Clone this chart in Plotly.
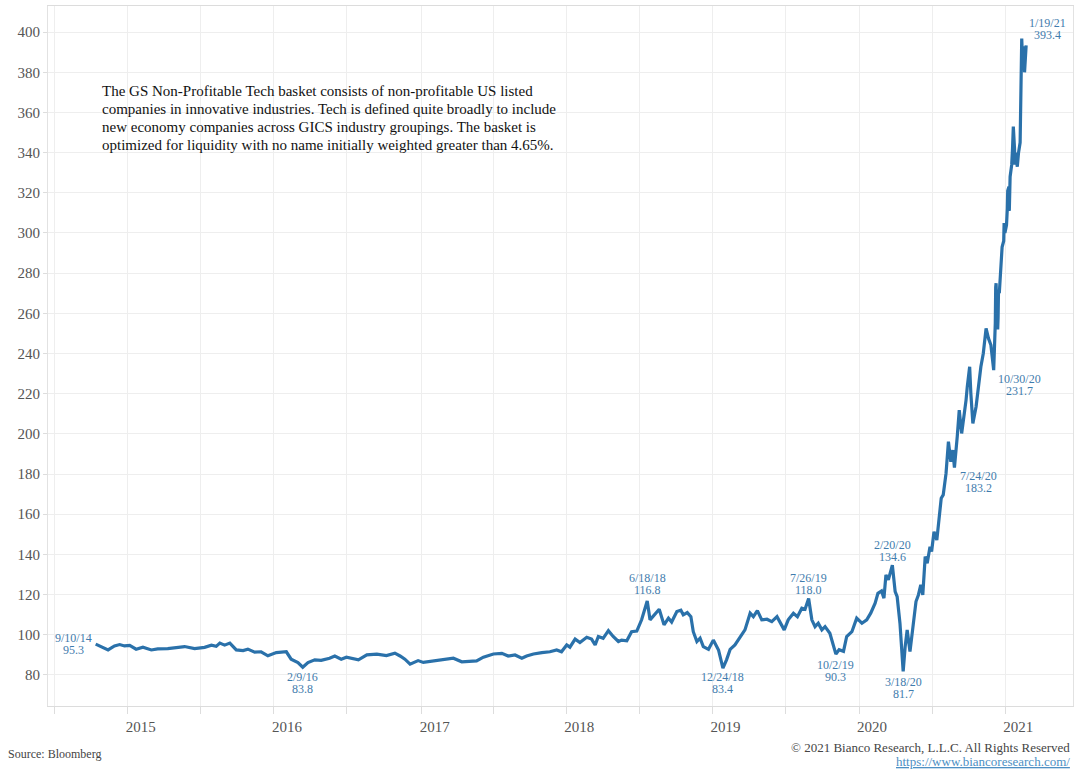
import plotly.graph_objects as go

# ---------------- data ----------------
dates = [
    "2014-09-10", "2014-09-28", "2014-10-11", "2014-10-27", "2014-11-09", "2014-11-21",
    "2014-12-04", "2014-12-20", "2015-01-06", "2015-01-27", "2015-02-12", "2015-03-09",
    "2015-03-30", "2015-04-20", "2015-05-15", "2015-06-09", "2015-06-26", "2015-07-08",
    "2015-07-17", "2015-07-29", "2015-08-11", "2015-08-19", "2015-08-27", "2015-09-13",
    "2015-09-25", "2015-10-12", "2015-10-28", "2015-11-14", "2015-12-05", "2015-12-30",
    "2016-01-11", "2016-01-28", "2016-02-09", "2016-02-22", "2016-03-10", "2016-03-26",
    "2016-04-16", "2016-04-29", "2016-05-15", "2016-05-28", "2016-06-06", "2016-06-27",
    "2016-07-18", "2016-08-12", "2016-09-05", "2016-09-26", "2016-10-09", "2016-10-21",
    "2016-11-03", "2016-11-23", "2016-12-06", "2016-12-23", "2017-01-12", "2017-01-29",
    "2017-02-19", "2017-03-12", "2017-04-02", "2017-04-18", "2017-05-05", "2017-05-30",
    "2017-06-20", "2017-07-06", "2017-07-23", "2017-08-09", "2017-08-21", "2017-09-07",
    "2017-09-28", "2017-10-18", "2017-11-04", "2017-11-16", "2017-11-29", "2017-12-07",
    "2017-12-20", "2018-01-01", "2018-01-18", "2018-01-30", "2018-02-08", "2018-02-16",
    "2018-02-28", "2018-03-13", "2018-03-25", "2018-04-07", "2018-04-15", "2018-04-28",
    "2018-05-10", "2018-05-23", "2018-06-04", "2018-06-18", "2018-06-25", "2018-07-07",
    "2018-07-18", "2018-07-30", "2018-08-10", "2018-08-18", "2018-08-31", "2018-09-10",
    "2018-09-16", "2018-09-26", "2018-10-05", "2018-10-11", "2018-10-20", "2018-10-28",
    "2018-11-05", "2018-11-18", "2018-11-30", "2018-12-13", "2018-12-24", "2019-01-02",
    "2019-01-11", "2019-01-23", "2019-02-05", "2019-02-17", "2019-03-02", "2019-03-10",
    "2019-03-20", "2019-03-31", "2019-04-13", "2019-04-25", "2019-05-08", "2019-05-16",
    "2019-05-26", "2019-06-05", "2019-06-18", "2019-06-28", "2019-07-09", "2019-07-17",
    "2019-07-26", "2019-08-03", "2019-08-11", "2019-08-19", "2019-08-28", "2019-09-05",
    "2019-09-17", "2019-10-02", "2019-10-10", "2019-10-21", "2019-10-29", "2019-11-11",
    "2019-11-23", "2019-12-06", "2019-12-18", "2019-12-28", "2020-01-08", "2020-01-15",
    "2020-01-24", "2020-01-30", "2020-02-04", "2020-02-10", "2020-02-20", "2020-02-27",
    "2020-03-03", "2020-03-10", "2020-03-18", "2020-03-23", "2020-03-28", "2020-04-04",
    "2020-04-12", "2020-04-19", "2020-04-25", "2020-05-01", "2020-05-06", "2020-05-12",
    "2020-05-17", "2020-05-24", "2020-05-28", "2020-06-03", "2020-06-10", "2020-06-14",
    "2020-06-21", "2020-06-26", "2020-07-03", "2020-07-09", "2020-07-15", "2020-07-20",
    "2020-07-24", "2020-07-31", "2020-08-05", "2020-08-11", "2020-08-17", "2020-08-22",
    "2020-08-25", "2020-08-31", "2020-09-03", "2020-09-08", "2020-09-16", "2020-09-22",
    "2020-09-28", "2020-10-04", "2020-10-11", "2020-10-17", "2020-10-23", "2020-10-30",
    "2020-11-02", "2020-11-03", "2020-11-04", "2020-11-05", "2020-11-06", "2020-11-09",
    "2020-11-10", "2020-11-11", "2020-11-13", "2020-11-16", "2020-11-18", "2020-11-20",
    "2020-11-24", "2020-11-25", "2020-11-27", "2020-12-01", "2020-12-03", "2020-12-04",
    "2020-12-07", "2020-12-08", "2020-12-10", "2020-12-14", "2020-12-16", "2020-12-18",
    "2020-12-21", "2020-12-22", "2020-12-23", "2020-12-28", "2020-12-29", "2020-12-30",
    "2020-12-31", "2021-01-04", "2021-01-05", "2021-01-06", "2021-01-07", "2021-01-08",
    "2021-01-11", "2021-01-12", "2021-01-13", "2021-01-14", "2021-01-15", "2021-01-19",
]
values = [
    95.3, 93.8, 92.4, 94.4, 95.1, 94.4,
    94.7, 92.8, 93.8, 92.4, 92.9, 93.1,
    93.7, 94.1, 93.1, 93.7, 94.8, 94.2,
    95.8, 94.8, 95.8, 94.2, 92.4, 92.1,
    92.8, 91.3, 91.5, 89.5, 91.1, 91.5,
    87.8, 86.1, 83.8, 86.1, 87.5, 87.2,
    88.3, 89.4, 87.8, 88.8, 88.3, 87.5,
    90.0, 90.3, 89.6, 90.8, 89.4, 87.8,
    85.3, 87.1, 86.2, 86.7, 87.5, 88.0,
    88.3, 86.5, 86.8, 87.0, 88.8, 90.4,
    90.7, 89.4, 89.9, 88.3, 89.4, 90.4,
    91.1, 91.5, 92.4, 91.5, 94.9, 93.8,
    97.8, 96.1, 98.7, 97.8, 94.9, 99.1,
    98.2, 102.0, 99.1, 96.6, 97.3, 97.0,
    101.5, 101.8, 107.4, 116.8, 107.4, 109.9,
    112.7, 104.9, 108.2, 106.3, 111.5, 112.2,
    109.9, 111.0, 109.0, 101.5, 96.6, 98.3,
    94.1, 92.7, 97.3, 92.4, 83.4, 87.5,
    92.7, 94.9, 99.1, 102.4, 110.7, 109.0,
    112.0, 107.4, 107.7, 106.5, 109.0, 105.7,
    102.4, 107.4, 110.7, 109.0, 113.2, 112.7,
    118.0, 107.4, 104.0, 105.7, 102.4, 104.0,
    100.7, 90.3, 92.5, 91.7, 99.1, 101.5,
    108.2, 105.7, 107.4, 110.7, 115.7, 120.6,
    121.8, 118.2, 129.8, 127.3, 134.6, 121.4,
    118.9, 105.7, 81.7, 94.1, 102.4, 91.6,
    105.7, 116.5, 119.8, 124.8, 119.8, 138.9,
    135.6, 143.8, 141.4, 151.3, 147.1, 155.5,
    167.9, 169.6, 180.3, 196.1, 186.1, 191.9,
    183.2, 198.6, 211.8, 200.2, 208.5, 216.8,
    223.4, 233.4, 220.1, 205.2, 213.5, 223.4,
    233.4, 240.0, 252.5, 247.5, 244.2, 231.7,
    245.0, 255.0, 273.0, 275.0, 268.0, 252.0,
    258.0, 271.0, 270.0, 280.0, 288.0, 293.0,
    296.0, 305.0, 300.0, 304.0, 312.0, 321.0,
    323.0, 311.0, 328.0, 334.0, 342.0, 353.0,
    342.0, 334.0, 340.0, 333.0, 338.0, 335.0,
    340.0, 345.0, 362.0, 377.0, 388.0, 396.8,
    381.0, 393.0, 384.0, 392.0, 380.0, 393.4,
]

# labelled points
label_dates = ["2014-09-10", "2016-02-09", "2018-06-18", "2018-12-24", "2019-07-26", "2019-10-02",
               "2020-02-20", "2020-03-18", "2020-07-24", "2020-10-30", "2021-01-19"]
label_values = [95.3, 83.8, 116.8, 83.4, 118.0, 90.3, 134.6, 81.7, 183.2, 231.7, 393.4]
label_names = ["9/10/14", "2/9/16", "6/18/18", "12/24/18", "7/26/19", "10/2/19",
               "2/20/20", "3/18/20", "7/24/20", "10/30/20", "1/19/21"]
# pixel offsets of label block centre from the point (styling)
label_offsets = [(-22, 0), (0, -16), (0, 17), (0, -15), (0, 15), (0, -17),
                 (0, 14), (0, -17), (24, -14), (26, -15), (21, 16)]

year_labels = ["2015", "2016", "2017", "2018", "2019", "2020", "2021"]
grid_dates = ["2014-05-31", "2014-11-29", "2015-05-29", "2015-11-29", "2016-05-29", "2016-12-02",
              "2017-05-29", "2017-11-28", "2018-05-29", "2018-11-28", "2019-05-30", "2019-11-29",
              "2020-05-29", "2020-11-28"]
y_ticks = [80, 100, 120, 140, 160, 180, 200, 220, 240, 260, 280, 300, 320, 340, 360, 380, 400]

note_lines = [
    "The GS Non-Profitable Tech basket consists of non-profitable US listed",
    "companies in innovative industries. Tech is defined quite broadly to include",
    "new economy companies across GICS industry groupings. The basket is",
    "optimized for liquidity with no name initially weighted greater than 4.65%.",
]

# ---------------- figure ----------------
SERIF = "Georgia, 'Liberation Serif', 'DejaVu Serif', serif"
LINE_COLOR = "#2a71aa"
LABEL_COLOR = "#3f7cad"

W, H = 1082, 777
ML, MR, MT, MB = 48, 9, 6, 71
PW, PH = W - ML - MR, H - MT - MB

fig = go.Figure()
fig.add_trace(go.Scatter(x=dates, y=values, mode="lines",
                         line=dict(color=LINE_COLOR, width=3.2), hoverinfo="x+y"))

grid_text = []
yi = 0
for i, g in enumerate(grid_dates):
    if g[5:7] in ("11", "12") and yi < len(year_labels):
        grid_text.append(year_labels[yi])
        yi += 1
    else:
        grid_text.append("")

annotations = []
for d, v, n, (dx, dy) in zip(label_dates, label_values, label_names, label_offsets):
    for txt, extra in ((n, 6), (f"{v:.1f}", -6)):
        annotations.append(dict(x=d, y=v, xref="x", yref="y", text=txt, showarrow=False,
                                xanchor="center", yanchor="middle", xshift=dx, yshift=dy + extra,
                                font=dict(family=SERIF, size=12, color=LABEL_COLOR)))


def px_x(p):
    return (p - ML) / PW


def px_y(p):
    return (H - MB - p) / PH


for i, line in enumerate(note_lines):
    annotations.append(dict(x=px_x(100), y=px_y(91 + 18 * i), xref="paper", yref="paper",
                            text=line, showarrow=False, xanchor="left", yanchor="middle",
                            font=dict(family=SERIF, size=15, color="#111111")))

annotations.append(dict(x=px_x(6), y=px_y(754), xref="paper", yref="paper",
                        text="Source: Bloomberg", showarrow=False, xanchor="left", yanchor="middle",
                        font=dict(family=SERIF, size=12, color="#444444")))
annotations.append(dict(x=px_x(1072), y=px_y(747), xref="paper", yref="paper",
                        text="© 2021 Bianco Research, L.L.C. All Rights Reserved", showarrow=False,
                        xanchor="right", yanchor="middle",
                        font=dict(family=SERIF, size=13, color="#444444")))
annotations.append(dict(x=px_x(1072), y=px_y(761), xref="paper", yref="paper",
                        text="<u>https://www.biancoresearch.com/</u>", showarrow=False,
                        xanchor="right", yanchor="middle",
                        font=dict(family=SERIF, size=13, color="#4d8fc4")))

fig.update_layout(
    width=W, height=H,
    margin=dict(l=ML, r=MR, t=MT, b=MB, pad=0),
    paper_bgcolor="white", plot_bgcolor="white",
    showlegend=False,
    annotations=annotations,
    font=dict(family=SERIF),
)
fig.update_xaxes(
    type="date", range=["2014-05-14", "2021-05-16"],
    tickmode="array", tickvals=grid_dates, ticktext=grid_text, ticklabelshift=13,
    showgrid=True, gridcolor="#eeeeee", gridwidth=1,
    ticks="outside", ticklen=7, tickcolor="#dddddd",
    showline=True, linecolor="#dcdcdc", mirror=True,
    tickfont=dict(family=SERIF, size=15, color="#555555"),
    zeroline=False,
)
fig.update_yaxes(
    range=[64.5, 413], tickmode="array", tickvals=y_ticks,
    showgrid=True, gridcolor="#eeeeee", gridwidth=1,
    ticks="outside", ticklen=4, tickcolor="#dddddd",
    showline=True, linecolor="#e2e2e2", mirror=True,
    tickfont=dict(family=SERIF, size=15, color="#555555"),
    zeroline=False,
)

fig.write_html("out.html", config={"displayModeBar": False},
               post_script="document.body.style.margin='0';")
